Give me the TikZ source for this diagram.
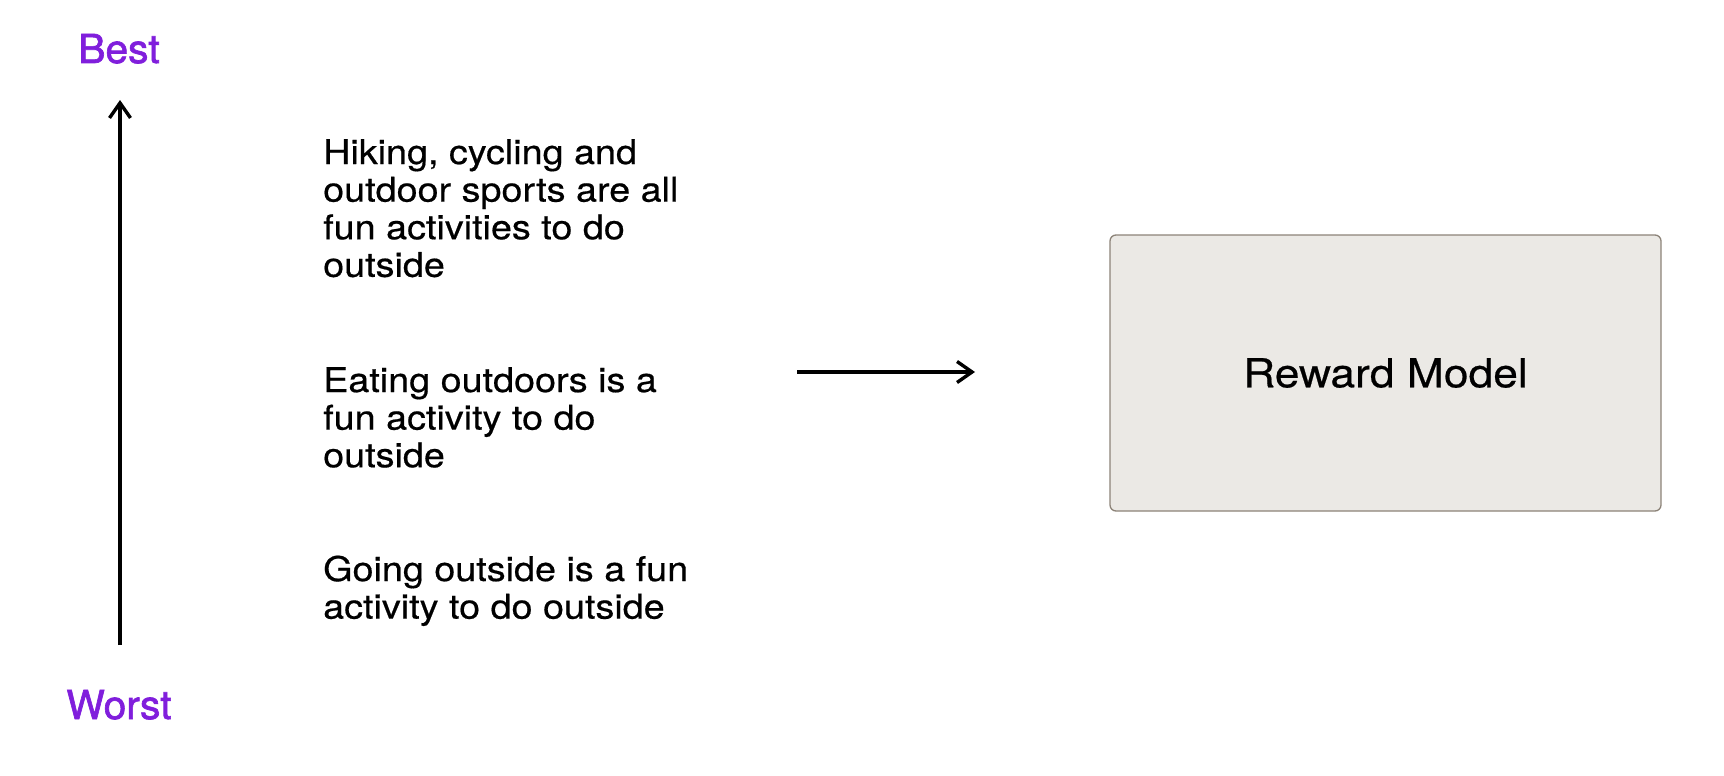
\documentclass[tikz,border=0pt]{standalone}
\usepackage{fontspec}
\usetikzlibrary{arrows.meta}
\setmainfont{TeX Gyre Heros}
\newfontfamily\bodyf[FakeStretch=1.11,FakeBold=0.5]{TeX Gyre Heros}
\newfontfamily\labelf[FakeBold=1.6,FakeStretch=1.02]{TeX Gyre Heros}
\definecolor{rankpurple}{RGB}{128,30,220}
\definecolor{boxfill}{RGB}{235,233,229}
\definecolor{boxline}{RGB}{140,131,120}
\tikzset{
  ranklabel/.style={inner sep=0pt, text=rankpurple, font=\labelf\fontsize{40}{44}\selectfont},
  response/.style={inner sep=0pt, anchor=base west, font=\bodyf\fontsize{34}{37.6}\selectfont},
  rmbox/.style={draw=boxline, line width=1.3pt, fill=boxfill, rounded corners=6pt,
    minimum width=551pt, minimum height=276pt, inner sep=0pt,
    font=\bodyf\fontsize{40}{44}\selectfont},
  arr/.style={line width=3.4pt, -{Straight Barb[length=15pt,width=21pt,line width=3.4pt]}}
}
\begin{document}
\begin{tikzpicture}[x=1pt,y=-1pt]
\useasboundingbox (0,0) rectangle (1724,776);
\node[ranklabel, anchor=base] (best) at (119,63) {Best};
\node[ranklabel, anchor=base] (worst) at (119,719) {Worst};
\coordinate (rankbot) at (120,645);
\coordinate (ranktop) at (120,100);
\draw[arr] (rankbot) -- (ranktop);
\node[response] (r1) at (323,164) {\begin{tabular}[t]{@{}l@{}}Hiking, cycling and\\outdoor sports are all\\fun activities to do\\outside\end{tabular}};
\node[response] (r2) at (323,392) {\begin{tabular}[t]{@{}l@{}}Eating outdoors is a\\fun activity to do\\outside\end{tabular}};
\node[response] (r3) at (323,581) {\begin{tabular}[t]{@{}l@{}}Going outside is a fun\\activity to do outside\end{tabular}};
\node[rmbox] (rm) at (1385.5,373) {Reward Model};
\coordinate (flowstart) at (797,372);
\coordinate (flowend) at (975,372);
\draw[arr] (flowstart) -- (flowend);
\end{tikzpicture}
\end{document}
